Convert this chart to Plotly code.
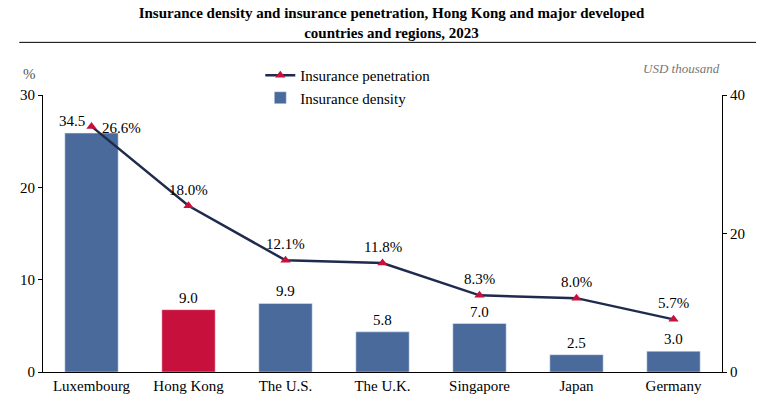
import plotly.graph_objects as go

regions = ["Luxembourg", "Hong Kong", "The U.S.", "The U.K.", "Singapore", "Japan", "Germany"]
density = [34.5, 9.0, 9.9, 5.8, 7.0, 2.5, 3.0]
penetration = [26.6, 18.0, 12.1, 11.8, 8.3, 8.0, 5.7]

F = "Liberation Serif, Times New Roman, serif"
TF = dict(family=F, size=15, color="black")
bar_colors = ["#C8103C" if r == "Hong Kong" else "#4A6A9C" for r in regions]

fig = go.Figure()
fig.add_trace(go.Bar(x=regions, y=density, yaxis="y", marker_color=bar_colors, width=0.55,
                     name="Insurance density", showlegend=False))
fig.add_trace(go.Bar(x=[None], y=[None], marker_color="#4A6A9C", name="Insurance density"))
fig.add_trace(go.Scatter(x=regions, y=penetration, yaxis="y2", mode="lines+markers",
                         line=dict(color="#1F2A4D", width=2.5),
                         marker=dict(symbol="triangle-up", color="#C8103C", size=9),
                         name="Insurance penetration"))

for i, (r, d, p) in enumerate(zip(regions, density, penetration)):
    fig.add_annotation(x=r, y=d, yref="y", text=f"{d:.1f}", showarrow=False, yanchor="bottom",
                       xshift=-20 if i == 0 else 0, yshift=2, font=TF)
    fig.add_annotation(x=r, y=p, yref="y2", text=f"{p:.1f}%", showarrow=False, yanchor="bottom",
                       xshift=30 if i == 0 else 0, yshift=(-12 if i == 0 else 6), font=TF)

fig.add_annotation(x=0, y=1.04, xref="paper", yref="paper", xanchor="right", xshift=-5, yanchor="bottom",
                   text="%", showarrow=False, font=dict(family=F, size=15, color="#555"))
fig.add_annotation(x=1, y=1.06, xref="paper", yref="paper", xanchor="right", yanchor="bottom",
                   text="<i>USD thousand</i>", showarrow=False, font=dict(family=F, size=13, color="#777"))
fig.add_shape(type="line", xref="paper", yref="paper", x0=-0.035, x1=1.05, y0=1.19, y1=1.19,
              line=dict(color="black", width=1))

fig.update_layout(
    width=767, height=405, margin=dict(l=32, r=53, t=87, b=41),
    paper_bgcolor="white", plot_bgcolor="white", bargap=0.45,
    title=dict(text="<b>Insurance density and insurance penetration, Hong Kong and major developed<br>countries and regions, 2023</b>",
               x=0.5, y=0.975, yanchor="top", font=TF),
    font=TF,
    legend=dict(x=0.32, y=1.13, xanchor="left", yanchor="top", bgcolor="rgba(0,0,0,0)",
                font=TF, traceorder="reversed"),
    xaxis=dict(showline=True, linecolor="black", ticks="", tickfont=TF),
    yaxis=dict(side="right", range=[0, 40], tickvals=[0, 20, 40], showgrid=False, showline=True,
               linecolor="black", ticks="outside", ticklen=4, tickcolor="black", tickfont=TF),
    yaxis2=dict(overlaying="y", side="left", range=[0, 30], tickvals=[0, 10, 20, 30], showgrid=False,
                showline=True, linecolor="black", ticks="outside", ticklen=4, tickcolor="black",
                tickfont=TF),
)
fig.write_html("out.html")
